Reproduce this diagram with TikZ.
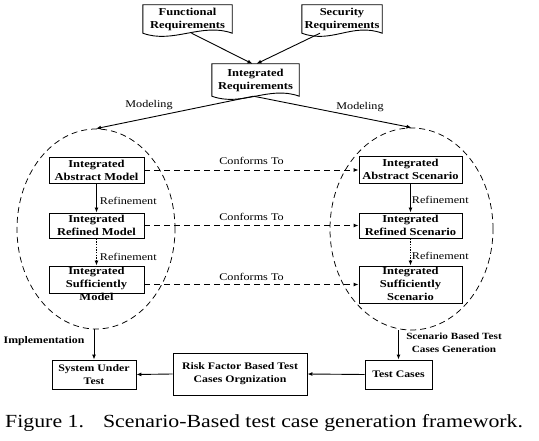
\documentclass[tikz,border=0pt]{standalone}
\usepackage{fontspec}
\setmainfont{Liberation Serif}[FakeStretch=1.18]
\usetikzlibrary{shapes.geometric,arrows.meta,calc}
\tikzset{
  ln/.style={line width=0.9pt},
  arr/.style={ln,-{Latex[length=5pt,width=4pt]}},
  dasharr/.style={arr,dash pattern=on 6pt off 4pt},
  dotarr/.style={arr,dash pattern=on 1.5pt off 1.2pt},
  boxfont/.style={font=\fontsize{10.6}{13}\selectfont\bfseries},
  stepbox/.style={draw,ln,boxfont,align=center,inner sep=0pt},
  plainbox/.style={draw,ln,inner sep=0pt},
  boxtext/.style={boxfont,align=center,inner sep=0pt},
  docnode/.style={boxfont,align=center,inner sep=0pt},
  lbl/.style={font=\fontsize{10.3}{12}\selectfont,inner sep=0pt},
  blbl/.style={font=\fontsize{9.8}{13}\selectfont\bfseries,align=center,inner sep=0pt},
  oval/.style={ellipse,draw,line width=0.75pt,dash pattern=on 6pt off 4pt,inner sep=0pt}
}
\newcommand{\docdraw}[1]{%
  \draw[ln] (#1.south west) -- (#1.north west) -- (#1.north east) -- (#1.south east)
    .. controls ($(#1.south east)+(-30,-11)$) and ($(#1.south west)+(30,11)$) .. (#1.south west) -- cycle;}
\begin{document}
\begin{tikzpicture}[x=1pt,y=-1pt]
\useasboundingbox (0,0) rectangle (539,441);
% requirement documents
\node[docnode,minimum width=89,minimum height=28] (fr) at (187.5,19) {Functional\\Requirements};
\node[docnode,minimum width=80,minimum height=28] (sr) at (342,19) {Security\\Requirements};
\node[docnode,minimum width=87,minimum height=32] (ir) at (255.5,80) {Integrated\\Requirements};
\docdraw{fr}
\docdraw{sr}
\docdraw{ir}
\draw[arr] ([xshift=4]fr.south) -- ([xshift=-3]ir.north);
\draw[arr] ([xshift=-22]sr.south) -- ([xshift=1]ir.north);
% ellipses
\node[oval,minimum width=158,minimum height=200] (lell) at (96,229) {};
\node[oval,minimum width=163,minimum height=202] (rell) at (411.5,229) {};
\draw[arr] ([xshift=-2]ir.south) -- (lell.north);
\draw[arr] ([xshift=-2]ir.south) -- (rell.north);
\node[lbl] (mod1) at (149,105) {Modeling};
\node[lbl] (mod2) at (360,107) {Modeling};
% left boxes
\node[stepbox,minimum width=95,minimum height=26] (lam) at (96.5,170) {Integrated\\Abstract Model};
\node[stepbox,minimum width=95,minimum height=25] (lrm) at (96.5,225.5) {Integrated\\Refined Model};
\node[plainbox,minimum width=95,minimum height=27] (lsm) at (96.5,279.5) {};
\node[boxtext] (lsmt) at (96.5,283.5) {Integrated\\Sufficiently\\Model};
% right boxes
\node[stepbox,minimum width=103,minimum height=27] (ras) at (410.5,169.5) {Integrated\\Abstract Scenario};
\node[stepbox,minimum width=103,minimum height=25] (rrs) at (410.5,225.5) {Integrated\\Refined Scenario};
\node[plainbox,minimum width=103,minimum height=37] (rss) at (410.5,284.5) {};
\node[boxtext] (rsst) at (410.5,283.5) {Integrated\\Sufficiently\\Scenario};
% refinements
\draw[arr] (lam.south) -- (lrm.north) node[lbl,pos=0.6,anchor=west,xshift=3pt] (rf1) {Refinement};
\draw[dotarr] (lrm.south) -- (lsm.north) node[lbl,pos=0.68,anchor=west,xshift=3pt] (rf2) {Refinement};
\draw[arr] (ras.south) -- (rrs.north) node[lbl,pos=0.56,anchor=west,xshift=1pt] (rf3) {Refinement};
\draw[dotarr] (rrs.south) -- (rss.north) node[lbl,pos=0.64,anchor=west,xshift=1pt] (rf4) {Refinement};
% conforms
\draw[dasharr] (lam.east) -- (lam.east -| ras.west) node[lbl,midway,yshift=9pt] (c1) {Conforms To};
\draw[dasharr] (lrm.east) -- (rrs.west) node[lbl,midway,yshift=9pt] (c2) {Conforms To};
\draw[dasharr] (lsm.east |- rss.west) -- (rss.west) node[lbl,midway,yshift=8pt] (c3) {Conforms To};
% bottom
\node[stepbox,font=\fontsize{10}{13}\selectfont\bfseries,minimum width=84,minimum height=29] (sut) at (94,374.5) {System Under\\Test};
\node[stepbox,font=\fontsize{10}{13}\selectfont\bfseries,minimum width=134,minimum height=42] (rfb) at (240,374) {Risk Factor Based Test\\Cases Orgnization};
\node[stepbox,font=\fontsize{10}{13}\selectfont\bfseries,minimum width=67,minimum height=29] (tc) at (398.5,374.5) {Test Cases};
\draw[arr] (sut.north |- lell.south) -- (sut.north);
\draw[arr] (tc.north |- rell.south) -- (tc.north);
\draw[arr] (tc.west) -- (rfb.east);
\draw[arr] (rfb.west) -- (sut.east);
\node[blbl,font=\fontsize{10}{13}\selectfont\bfseries] (impl) at (44,341) {Implementation};
\node[blbl,font=\fontsize{9.5}{13}\selectfont\bfseries] (sbg) at (454,342.5) {Scenario Based Test\\Cases Generation};
% caption
\node[anchor=base west,inner sep=0pt,font=\fontsize{18.5}{20}\selectfont] (cap) at (5,427) {Figure 1.\hspace{19pt}Scenario-Based test case generation framework.};
\end{tikzpicture}
\end{document}
